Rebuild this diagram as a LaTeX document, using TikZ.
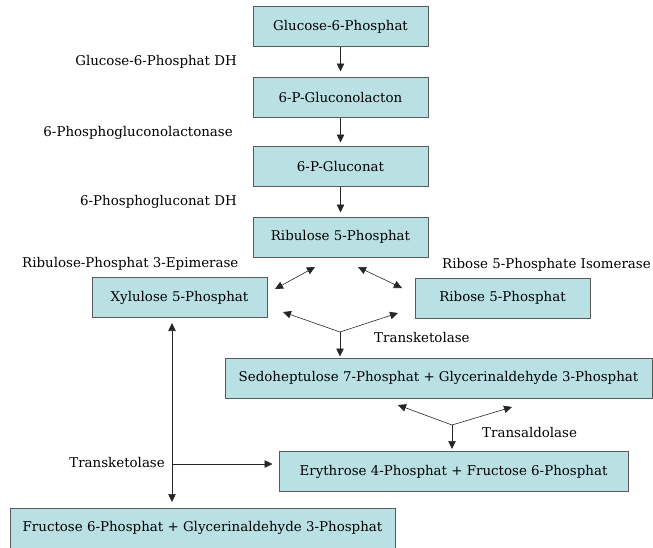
\documentclass[tikz,border=0pt]{standalone}
\usepackage{fontspec}
\setmainfont{DejaVu Serif}
\usetikzlibrary{arrows.meta}
\definecolor{boxfill}{HTML}{B9E0E3}
\definecolor{boxline}{HTML}{5A5A5A}

\begin{document}
\begin{tikzpicture}[x=1pt,y=-1pt,
    font=\fontsize{13.4}{16}\selectfont,
    stoff/.style={draw=boxline,fill=boxfill,line width=1pt,
      minimum height=40pt,inner sep=0pt},
    enzym/.style={inner sep=0pt},
    pfeil/.style={-{Triangle[length=8pt,width=7.5pt]},line width=0.6pt,
      draw=black!85},
    pfeil2/.style={{Triangle[length=8pt,width=7.5pt]}-{Triangle[length=8pt,width=7.5pt]},
      line width=0.6pt,draw=black!85}]
  \useasboundingbox (0,0) rectangle (653,547);

  % Stoffe
  \node[stoff,minimum width=175pt] (g6p) at (340.5,26.5) {Glucose-6-Phosphat};
  \node[stoff,minimum width=175pt] (lac) at (340.5,97) {6-P-Gluconolacton};
  \node[stoff,minimum width=175pt] (gluc) at (340.5,166) {6-P-Gluconat};
  \node[stoff,minimum width=175pt] (ru5p) at (340.5,237) {Ribulose 5-Phosphat};
  \node[stoff,minimum width=175pt] (xu5p) at (179.5,297.5) {Xylulose 5-Phosphat};
  \node[stoff,minimum width=175pt] (r5p) at (502.5,298) {Ribose 5-Phosphat};
  \node[stoff,minimum width=427pt] (s7p) at (438.5,378)
    {Sedoheptulose 7-Phosphat + Glycerinaldehyde 3-Phosphat};
  \node[stoff,minimum width=349pt] (e4p) at (453.5,471.5)
    {Erythrose 4-Phosphat + Fructose 6-Phosphat};
  \node[stoff,minimum width=385pt] (f6p) at (202.5,528)
    {Fructose 6-Phosphat + Glycerinaldehyde 3-Phosphat};

  % Enzyme
  \node[enzym,anchor=east] (dh1) at (237,62) {Glucose-6-Phosphat DH};
  \node[enzym,anchor=east] (lacase) at (233,133) {6-Phosphogluconolactonase};
  \node[enzym,anchor=east] (dh2) at (237,202) {6-Phosphogluconat DH};
  \node[enzym,anchor=west] (epi) at (22,264) {Ribulose-Phosphat 3-Epimerase};
  \node[enzym,anchor=east] (iso) at (651,265) {Ribose 5-Phosphate Isomerase};
  \node[enzym,anchor=west] (tk1) at (374,337) {Transketolase};
  \node[enzym,anchor=west] (ta) at (482,432) {Transaldolase};
  \node[enzym,anchor=east] (tk2) at (165,462) {Transketolase};

  % Hilfspunkte
  \coordinate (ep1) at (315,267); \coordinate (ep2) at (275,289);
  \coordinate (is1) at (358,267); \coordinate (is2) at (402,288);
  \coordinate (tkm) at (340,332); \coordinate (tkl) at (283,312);
  \coordinate (tkr) at (398,313);
  \coordinate (tam) at (452,425); \coordinate (tal) at (398,405);
  \coordinate (tar) at (512,407);
  \coordinate (tko) at (172,323); \coordinate (tkk) at (172,464);
  \coordinate (tku) at (172,502);

  % Pfeile
  \draw[pfeil,shorten >=5pt] (g6p) -- (lac);
  \draw[pfeil,shorten >=3pt] (lac) -- (gluc);
  \draw[pfeil,shorten >=4pt] (gluc) -- (ru5p);
  \draw[pfeil2] (ep1) -- (ep2);
  \draw[pfeil2] (is1) -- (is2);
  \draw[pfeil] (tkm) -- (tkl);
  \draw[pfeil] (tkm) -- (tkr);
  \draw[pfeil,shorten >=1pt] (tkm) -- (tkm |- s7p.north);
  \draw[pfeil] (tam) -- (tal);
  \draw[pfeil] (tam) -- (tar);
  \draw[pfeil,shorten >=2pt] (tam) -- (tam |- e4p.north);
  \draw[pfeil2] (tko) -- (tku);
  \draw[pfeil,shorten >=6pt] (tkk) -- (tkk -| e4p.west);
\end{tikzpicture}
\end{document}
